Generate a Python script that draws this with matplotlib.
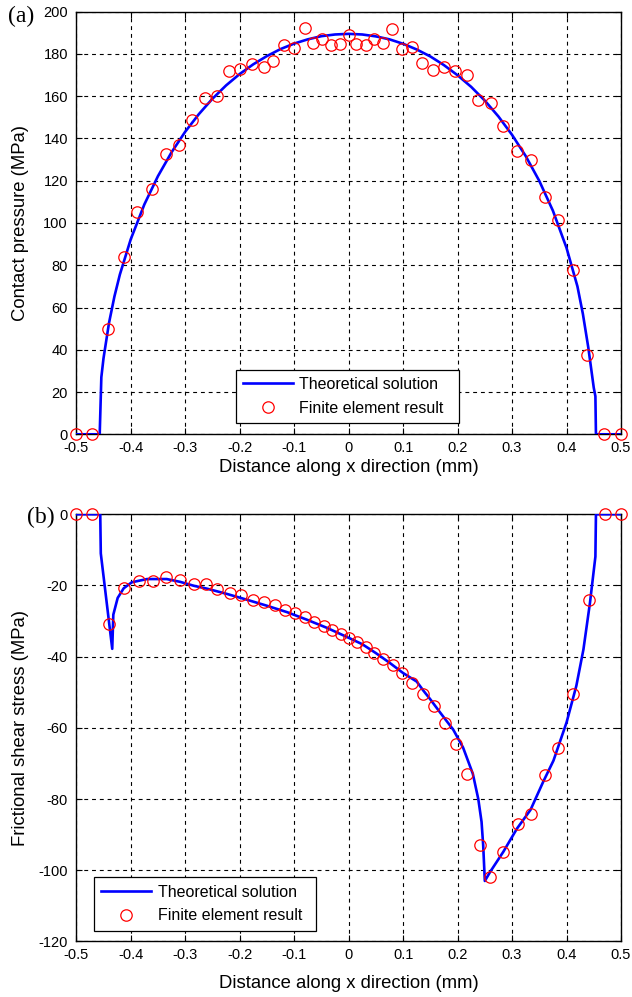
import matplotlib
matplotlib.use("Agg")
import matplotlib.pyplot as plt

plt.rcParams['font.family'] = ['Liberation Sans', 'DejaVu Sans']

# ---------------- Panel (a): contact pressure ----------------
theory_a_x = [-0.5, -0.457, -0.454, -0.45, -0.44, -0.43, -0.42, -0.40, -0.375, -0.35, -0.325,
              -0.30, -0.275, -0.25, -0.225, -0.20, -0.175, -0.15, -0.125, -0.10, -0.075,
              -0.05, -0.025, 0.0, 0.025, 0.05, 0.075, 0.10, 0.125, 0.15, 0.175, 0.20,
              0.225, 0.25, 0.275, 0.30, 0.325, 0.35, 0.375, 0.40, 0.42, 0.43, 0.44,
              0.45, 0.453, 0.454, 0.5]
theory_a_y = [0, 0, 27, 36, 52.6, 65.2, 75.6, 92.3, 108.8, 122.2, 133.5,
              143.2, 151.5, 158.8, 165.1, 170.5, 175.1, 179.0, 182.3, 184.9, 186.9,
              188.4, 189.2, 189.5, 189.2, 188.3, 186.9, 184.8, 182.1, 178.8, 174.7, 169.9,
              164.4, 157.9, 150.4, 141.7, 131.7, 119.9, 105.8, 88.2, 70.0, 57.0, 41.0,
              22.0, 18.0, 0, 0]

fe_a_x = [-0.5, -0.471, -0.441, -0.413, -0.388, -0.361, -0.336, -0.311, -0.287, -0.264,
          -0.241, -0.219, -0.199, -0.177, -0.156, -0.138, -0.118, -0.100, -0.081, -0.065,
          -0.048, -0.033, -0.016, 0.0, 0.014, 0.031, 0.047, 0.063, 0.079, 0.098,
          0.117, 0.135, 0.155, 0.175, 0.196, 0.217, 0.238, 0.261, 0.284, 0.309,
          0.334, 0.360, 0.385, 0.411, 0.438, 0.469, 0.5]
fe_a_y = [0, 0, 49.9, 84.0, 105.4, 116.0, 132.8, 137.1, 148.7, 159.2,
          159.9, 172.0, 173.0, 175.0, 173.8, 176.8, 184.0, 182.6, 192.4, 185.3,
          186.9, 184.2, 184.7, 189.0, 184.7, 184.2, 186.9, 185.2, 191.8, 182.3,
          183.4, 175.7, 172.5, 173.6, 172.0, 170.1, 158.3, 156.9, 146.0, 134.0,
          129.9, 112.3, 101.3, 77.6, 37.3, 0, 0]

# ---------------- Panel (b): frictional shear stress ----------------
theory_b_x = [-0.5, -0.456, -0.455, -0.434, -0.432, -0.424, -0.413, -0.398, -0.370, -0.334,
              -0.309, -0.284, -0.260, -0.223, -0.187, -0.150, -0.113, -0.077, -0.040, 0.0,
              0.025, 0.05, 0.075, 0.10, 0.125, 0.137, 0.150, 0.168, 0.192, 0.210,
              0.228, 0.238, 0.244, 0.247, 0.250, 0.260, 0.284, 0.309, 0.334, 0.357,
              0.376, 0.400, 0.418, 0.431, 0.443, 0.453, 0.454, 0.5]
theory_b_y = [0, 0, -11, -37.8, -28.2, -23.5, -20.8, -19.1, -18.2, -18.2,
              -19.0, -20.1, -20.9, -22.4, -24.0, -25.7, -27.5, -29.6, -31.9, -34.7,
              -36.5, -39.0, -41.7, -44.6, -47.0, -49.5, -52.0, -55.7, -60.5, -65.5,
              -72.9, -80.0, -86.4, -93.0, -103.0, -100.4, -94.8, -88.3, -83.0, -75.2,
              -69.2, -58.5, -48.2, -38.0, -24.9, -11.9, 0, 0]

fe_b_x = [-0.5, -0.471, -0.440, -0.413, -0.385, -0.360, -0.335, -0.309, -0.284, -0.261,
          -0.241, -0.217, -0.197, -0.176, -0.155, -0.136, -0.116, -0.098, -0.081, -0.063,
          -0.046, -0.030, -0.014, 0.0, 0.015, 0.031, 0.047, 0.063, 0.081, 0.098,
          0.116, 0.137, 0.156, 0.176, 0.197, 0.217, 0.241, 0.260, 0.284, 0.310,
          0.334, 0.361, 0.385, 0.412, 0.441, 0.471, 0.5]
fe_b_y = [0, 0, -30.9, -20.8, -18.7, -18.7, -17.6, -18.6, -19.7, -19.7,
          -21.1, -22.2, -22.7, -24.0, -24.7, -25.6, -26.8, -27.7, -28.9, -30.2,
          -31.4, -32.4, -33.5, -34.8, -35.9, -37.2, -38.9, -40.6, -42.4, -44.7,
          -47.4, -50.5, -54.0, -58.5, -64.5, -72.9, -92.8, -101.8, -94.8, -86.9,
          -84.1, -73.2, -65.6, -50.5, -24.2, 0, 0]

x_ticks = [-0.5, -0.4, -0.3, -0.2, -0.1, 0, 0.1, 0.2, 0.3, 0.4, 0.5]
x_ticklabels = ['-0.5', '-0.4', '-0.3', '-0.2', '-0.1', '0', '0.1', '0.2', '0.3', '0.4', '0.5']
y_ticks_a = [0, 20, 40, 60, 80, 100, 120, 140, 160, 180, 200]
y_ticks_b = [-120, -100, -80, -60, -40, -20, 0]

xlabel = 'Distance along x direction (mm)'
ylabel_a = 'Contact pressure (MPa)'
ylabel_b = 'Frictional shear stress (MPa)'
legend_labels = ['Theoretical solution', 'Finite element result']

fig = plt.figure(figsize=(6.32, 9.97), dpi=100)
ax1 = fig.add_axes([0.1207, 0.5644, 0.8619, 0.4239])
ax2 = fig.add_axes([0.1207, 0.0557, 0.8619, 0.4285])


def style(ax, yticks, ylim, ylabel, xlab_y):
    ax.set_xlim(-0.5, 0.5)
    ax.set_ylim(*ylim)
    ax.set_xticks(x_ticks)
    ax.set_xticklabels(x_ticklabels)
    ax.set_yticks(yticks)
    ax.set_yticklabels([str(v) for v in yticks])
    ax.grid(True, color='black', linestyle=(0, (3.5, 3.5)), linewidth=0.8)
    ax.set_axisbelow(True)
    ax.tick_params(direction='in', top=True, right=True, length=4, width=0.8,
                   labelsize=10.5, colors='black')
    ax.tick_params(axis='x', pad=4.6)
    ax.tick_params(axis='y', pad=6)
    for s in ax.spines.values():
        s.set_linewidth(1.0)
        s.set_color('black')
    ax.set_xlabel(xlabel, fontsize=13.3)
    ax.set_ylabel(ylabel, fontsize=13.3)
    ax.xaxis.set_label_coords(0.5, xlab_y)
    ax.yaxis.set_label_coords(-0.087, 0.5)


def draw(ax, tx, ty, fx, fy, leg_box):
    ln, = ax.plot(tx, ty, color='#0000ff', linewidth=1.9, zorder=3,
                  label=legend_labels[0])
    mk, = ax.plot(fx, fy, linestyle='none', marker='o', markersize=8.2,
                  markerfacecolor='none', markeredgecolor='#ff0000',
                  markeredgewidth=0.9, zorder=4, clip_on=False,
                  label=legend_labels[1])
    leg = ax.legend(handles=[ln, mk], loc='lower left', bbox_to_anchor=leg_box,
                    mode='expand', borderaxespad=0, fontsize=11.5, handlelength=3.1,
                    handletextpad=0.42, borderpad=0.45, labelspacing=0.55,
                    fancybox=False, framealpha=1, edgecolor='black')
    leg.get_frame().set_linewidth(0.9)
    leg.set_zorder(10)


style(ax1, y_ticks_a, (0, 200), ylabel_a, -0.0573)
draw(ax1, theory_a_x, theory_a_y, fe_a_x, fe_a_y, (0.293, 0.0267, 0.4094, 0.05))

style(ax2, y_ticks_b, (-120, 0), ylabel_b, -0.078)
draw(ax2, theory_b_x, theory_b_y, fe_b_x, fe_b_y, (0.033, 0.0253, 0.4065, 0.05))

fig.text(21.5 / 632, 1 - 16.5 / 997, '(a)', family=['Liberation Serif', 'DejaVu Serif'],
         fontsize=17, ha='center', va='center')
fig.text(41 / 632, 1 - 517 / 997, '(b)', family=['Liberation Serif', 'DejaVu Serif'],
         fontsize=17, ha='center', va='center')

fig.savefig('out.png', dpi=100)
